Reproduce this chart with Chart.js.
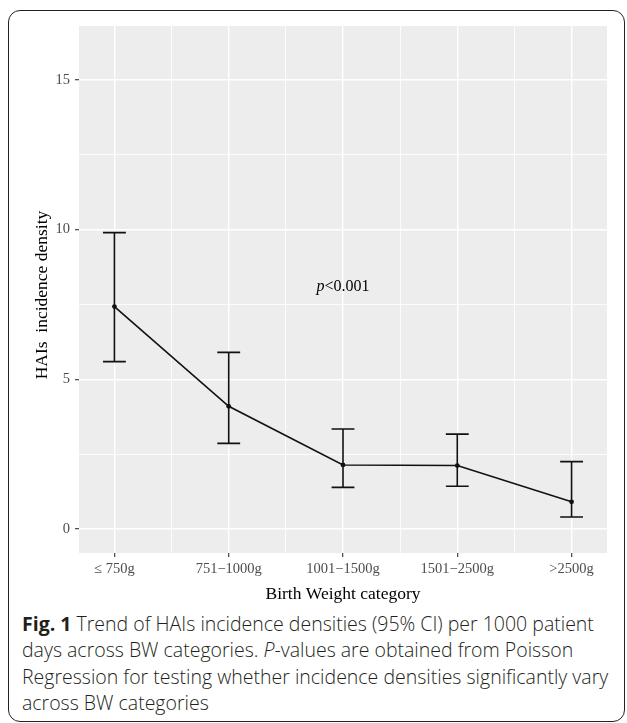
<!DOCTYPE html>
<html>
<head>
<meta charset="utf-8">
<script src="https://cdn.jsdelivr.net/npm/chart.js@4"></script>
<style>
    body { margin: 0; background: #fff; }
    #khung {
        position: absolute; left: 8px; top: 10px; width: 615px; height: 710px;
        border: 1.5px solid #222; border-radius: 12px;
    }
    #bieuDo { position: absolute; left: 0; top: 0; }
    #chuThich {
        position: absolute; left: 22px; top: 611px;
        font-family: "Open Sans", sans-serif; font-size: 19.5px; font-weight: 300; line-height: 26.3px;
        color: #231f20; white-space: nowrap;
    }
    #chuThich b { font-weight: 700; }
</style>
</head>
<body>
<div id="khung"></div>
<canvas id="bieuDo" width="627" height="610"></canvas>
<div id="chuThich">
    <b>Fig. 1</b> Trend of HAIs incidence densities (95% CI) per 1000 patient<br>
    days across BW categories. <i>P</i>-values are obtained from Poisson<br>
    Regression for testing whether incidence densities significantly vary<br>
    across BW categories
</div>
<script>
// dữ liệu
const nhomCanNang = ["\u2264 750g", "751\u22121000g", "1001\u22121500g", "1501\u22122500g", ">2500g"];
const matDo = [7.43, 4.10, 2.14, 2.12, 0.91];
const canDuoi = [5.59, 2.86, 1.39, 1.43, 0.40];
const canTren = [9.90, 5.90, 3.34, 3.17, 2.25];
const vachY = [0, 5, 10, 15];

const FONT_SERIF = "'Liberation Serif', 'Times New Roman', serif";

// nền xám của vùng vẽ
const nenXam = {
    id: "nenXam",
    beforeDraw(chart) {
        const a = chart.chartArea;
        chart.ctx.save();
        chart.ctx.fillStyle = "#ededed";
        chart.ctx.fillRect(a.left, a.top, a.right - a.left, a.bottom - a.top);
        chart.ctx.restore();
    },
};

// thanh sai số 95% CI
const thanhSaiSo = {
    id: "thanhSaiSo",
    afterDatasetsDraw(chart) {
        const ctx = chart.ctx;
        const x = chart.scales.x;
        const y = chart.scales.y;
        const nuaNgang = x.getPixelForValue(0.1) - x.getPixelForValue(0);
        ctx.save();
        ctx.strokeStyle = "#111";
        ctx.lineWidth = 1.6;
        matDo.forEach((v, i) => {
            const px = x.getPixelForValue(i);
            const yd = y.getPixelForValue(canDuoi[i]);
            const yt = y.getPixelForValue(canTren[i]);
            ctx.beginPath();
            ctx.moveTo(px, yd);
            ctx.lineTo(px, yt);
            ctx.moveTo(px - nuaNgang, yd);
            ctx.lineTo(px + nuaNgang, yd);
            ctx.moveTo(px - nuaNgang, yt);
            ctx.lineTo(px + nuaNgang, yt);
            ctx.stroke();
        });
        ctx.restore();
    },
};

// chữ p<0.001 và tên trục y
const chuThem = {
    id: "chuThem",
    afterDraw(chart) {
        const ctx = chart.ctx;
        const x = chart.scales.x;
        const y = chart.scales.y;
        ctx.save();
        ctx.fillStyle = "#000";
        ctx.textBaseline = "middle";

        ctx.font = "italic 16px " + FONT_SERIF;
        const wP = ctx.measureText("p").width;
        ctx.font = "16px " + FONT_SERIF;
        const wCon = ctx.measureText("<0.001").width;
        const cx = x.getPixelForValue(2);
        const cy = y.getPixelForValue(8.1);
        let bd = cx - (wP + wCon) / 2;
        ctx.textAlign = "left";
        ctx.font = "italic 16px " + FONT_SERIF;
        ctx.fillText("p", bd, cy);
        ctx.font = "16px " + FONT_SERIF;
        ctx.fillText("<0.001", bd + wP, cy);

        ctx.translate(42, 295);
        ctx.rotate(-Math.PI / 2);
        ctx.textAlign = "center";
        ctx.font = "17.5px " + FONT_SERIF;
        ctx.fillText("HAIs  incidence density", 0, 0);
        ctx.restore();
    },
};

function veBieuDo() {
    const diem = matDo.map((v, i) => ({ x: i, y: v }));

    new Chart(document.getElementById("bieuDo"), {
        type: "line",
        data: {
            datasets: [
                {
                    data: diem,
                    borderColor: "#111",
                    borderWidth: 1.6,
                    pointRadius: 2.4,
                    pointBackgroundColor: "#111",
                    pointBorderWidth: 0,
                    tension: 0,
                },
            ],
        },
        options: {
            responsive: false,
            animation: false,
            devicePixelRatio: 1,
            layout: { padding: { top: 26, left: 0, right: 20, bottom: 0 } },
            plugins: { legend: { display: false }, tooltip: { enabled: false } },
            scales: {
                x: {
                    type: "linear",
                    min: -0.31,
                    max: 4.31,
                    afterBuildTicks: (s) => {
                        s.ticks = [0, 0.5, 1, 1.5, 2, 2.5, 3, 3.5, 4].map((v) => ({ value: v }));
                    },
                    afterFit: (s) => {
                        s.height = 57;
                    },
                    border: { display: false },
                    grid: {
                        color: "#ffffff",
                        lineWidth: (c) => (c.tick && Number.isInteger(c.tick.value) ? 1.4 : 0.8),
                        tickLength: 4,
                        tickColor: (c) => (c.tick && Number.isInteger(c.tick.value) ? "#333" : "rgba(0,0,0,0)"),
                        tickWidth: 1.1,
                    },
                    ticks: {
                        padding: 3,
                        color: "#4d4d4d",
                        font: { family: FONT_SERIF, size: 14.5 },
                        maxRotation: 0,
                        autoSkip: false,
                        callback: (v) => (Number.isInteger(v) ? nhomCanNang[v] : ""),
                    },
                    title: {
                        display: true,
                        text: "Birth Weight category",
                        color: "#000",
                        font: { family: FONT_SERIF, size: 17.5 },
                        padding: { top: 0, bottom: 5 },
                    },
                },
                y: {
                    min: -0.8,
                    max: 16.8,
                    afterBuildTicks: (s) => {
                        s.ticks = [0, 2.5, 5, 7.5, 10, 12.5, 15].map((v) => ({ value: v }));
                    },
                    afterFit: (s) => {
                        s.width = 79;
                    },
                    border: { display: false },
                    grid: {
                        color: "#ffffff",
                        lineWidth: (c) => (c.tick && vachY.includes(c.tick.value) ? 1.4 : 0.8),
                        tickLength: 4,
                        tickColor: (c) => (c.tick && vachY.includes(c.tick.value) ? "#333" : "rgba(0,0,0,0)"),
                        tickWidth: 1.1,
                    },
                    ticks: {
                        padding: 5,
                        color: "#4d4d4d",
                        font: { family: FONT_SERIF, size: 14.5 },
                        callback: (v) => (vachY.includes(v) ? String(v) : ""),
                    },
                },
            },
        },
        plugins: [nenXam, thanhSaiSo, chuThem],
    });
}

document.addEventListener("DOMContentLoaded", veBieuDo);
</script>
</body>
</html>
